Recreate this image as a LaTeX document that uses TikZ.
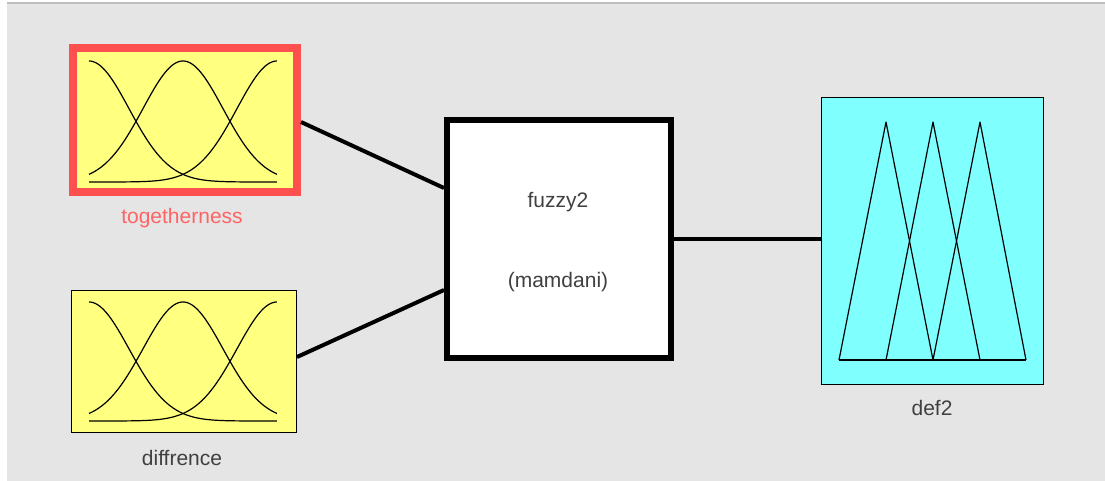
\documentclass[tikz,border=0pt]{standalone}
\usepackage{fontspec}
\setmainfont{Liberation Sans}
\usetikzlibrary{calc}
\definecolor{bg}{HTML}{E5E5E5}
\definecolor{topline}{HTML}{BDBDBD}
\definecolor{inyellow}{HTML}{FFFF80}
\definecolor{selred}{HTML}{FF5050}
\definecolor{labred}{HTML}{FF6464}
\definecolor{outcyan}{HTML}{80FFFF}
\definecolor{txt}{HTML}{404040}
\tikzset{
  varbox/.style={draw=black, line width=1pt, fill=inyellow, inner sep=0pt, minimum width=#1},
  selbox/.style={draw=selred, line width=8pt, fill=inyellow, inner sep=0pt},
  fisbox/.style={draw=black, line width=6pt, fill=white, inner sep=0pt},
  outbox/.style={draw=black, line width=1pt, fill=outcyan, inner sep=0pt},
  lab/.style={text=txt, font=\fontsize{21}{25}\selectfont, inner sep=0pt},
  conn/.style={line width=4pt, black},
  mf/.style={line width=1.2pt, black, line join=round}
}
\begin{document}
\begin{tikzpicture}[x=1pt, y=-1pt]
\useasboundingbox (0,0) rectangle (1105,481);
\fill[white] (0,0) rectangle (1105,481);
\fill[bg] (7,3) rectangle (1105,481);
\fill[topline] (7,2.5) rectangle (1105,4.5);

% boxes
\node[selbox, minimum width=224pt, minimum height=144pt] (tog) at (185,120) {};
\node[varbox=225pt, minimum height=142pt] (dif) at (184,361.5) {};
\node[fisbox, minimum width=224pt, minimum height=238pt] (fz) at (559,239) {};
\node[outbox, minimum width=222pt, minimum height=287pt] (d2) at (932.5,241) {};

% labels
\node[lab, text=labred] (togl) at (182,218) {togetherness};
\node[lab] (difl) at (182,458) {diffrence};
\node[lab] (d2l) at (932,408) {def2};
\node[lab] (fzn) at (558,202) {fuzzy2};
\node[lab] (fzt) at (558,282) {(mamdani)};

% connectors
\draw[conn] ([yshift=-2pt]tog.east) -- ([yshift=51pt]fz.west);
\draw[conn] ([yshift=4.5pt]dif.east) -- ([yshift=-51pt]fz.west);
\draw[conn] (fz.east) -- (fz.east -| d2.west);

% gaussian membership functions
\foreach \c in {0,0.5,1}{
  \draw[mf] plot[domain=0:1, samples=90, smooth] ({89+188*\x},{182-121*exp(-((\x-\c)*(\x-\c))/0.0905)});
  \draw[mf] plot[domain=0:1, samples=90, smooth] ({89+188*\x},{421-119*exp(-((\x-\c)*(\x-\c))/0.0905)});
}

% triangular membership functions: def2
\draw[mf] (839,360) -- (886,122) -- (933,360);
\draw[mf] (886,360) -- (933,122) -- (980,360);
\draw[mf] (933,360) -- (980,122) -- (1026,360);
\draw[mf] (839,360) -- (1026,360);
\end{tikzpicture}
\end{document}
